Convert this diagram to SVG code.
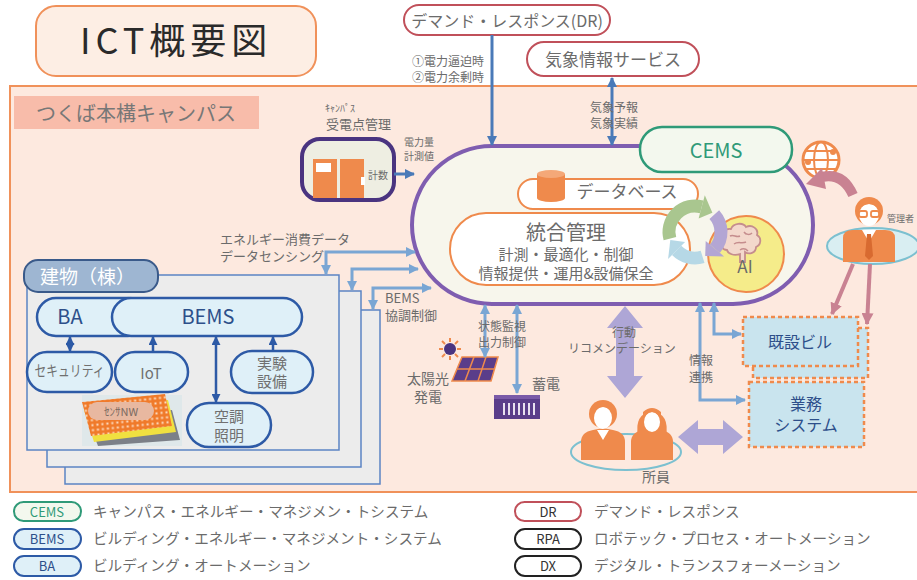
<svg xmlns="http://www.w3.org/2000/svg" width="917" height="580" viewBox="0 0 917 580">
<style>
  text { font-family: "Noto Sans CJK JP", "Noto Sans", sans-serif; }
  .g { fill: #6b6b6b; }
  .lbl { font-size: 12px; fill: #6b6b6b; }
  .pill { fill: #dff0f8; stroke: #2d5aa6; stroke-width: 2.5; }
  .pilltx { fill: #2d4f8a; text-anchor: middle; }
  .ptx { fill: #707070; text-anchor: middle; font-size: 15px; }
  .bl { fill: none; stroke: #4a7ab8; stroke-width: 3; }
  .lb { fill: none; stroke: #7aa6d4; stroke-width: 3; }
  .nv { fill: none; stroke: #2d5aa6; stroke-width: 2.5; }
  .pk { fill: none; stroke: #c98292; stroke-width: 4; }
  .stack { fill: #ececec; stroke: #5b84c4; stroke-width: 1.5; }
  .og { fill: #ef8a4c; }
  .dash { fill: #c9e4ee; stroke: #ef8a4c; stroke-width: 2.5; stroke-dasharray: 4 3; }
  .leg { font-size: 14.6px; fill: #6b6b6b; }
</style>
<defs>
  <marker id="mBl" viewBox="0 0 10 10" refX="9" refY="5" markerWidth="10" markerHeight="10" markerUnits="userSpaceOnUse" orient="auto-start-reverse">
    <path d="M0,0 L10,5 L0,10 z" fill="#4a7ab8"/>
  </marker>
  <marker id="mLb" viewBox="0 0 10 10" refX="9" refY="5" markerWidth="10" markerHeight="10" markerUnits="userSpaceOnUse" orient="auto-start-reverse">
    <path d="M0,0 L10,5 L0,10 z" fill="#7aa6d4"/>
  </marker>
  <marker id="mNv" viewBox="0 0 10 10" refX="9" refY="5" markerWidth="9" markerHeight="9" markerUnits="userSpaceOnUse" orient="auto-start-reverse">
    <path d="M0,0 L10,5 L0,10 z" fill="#2d5aa6"/>
  </marker>
  <marker id="mPk" viewBox="0 0 10 10" refX="9" refY="5" markerWidth="12" markerHeight="12" markerUnits="userSpaceOnUse" orient="auto">
    <path d="M0,0 L10,5 L0,10 z" fill="#c98292"/>
  </marker>
  <pattern id="grid" width="5" height="5" patternUnits="userSpaceOnUse" patternTransform="rotate(-6)">
    <rect width="5" height="5" fill="#f07a2a"/>
    <rect x="1.5" y="1.5" width="2" height="2" fill="#fde0c8"/>
  </pattern>
</defs>

<!-- page background -->
<rect width="917" height="580" fill="#ffffff"/>

<!-- title -->
<g id="title">
  <rect x="36" y="6" width="280" height="70" rx="20" fill="#fdeee4" stroke="#f0915a" stroke-width="2"/>
  <text x="80" y="54" font-size="36" letter-spacing="5" fill="#2a2a2a">ICT概要図</text>
</g>

<!-- campus area -->
<g id="campus">
  <rect x="10" y="86" width="920" height="406" fill="#fde9df" stroke="#f0915a" stroke-width="2"/>
  <rect x="14" y="96" width="245" height="33" fill="#f8bcaa"/>
  <text x="36" y="121" font-size="20" fill="#777777">つくば本構キャンパス</text>
</g>

<!-- external services -->
<g id="dr">
  <rect x="404" y="5" width="206" height="30" rx="15" fill="#ffffff" stroke="#c0505a" stroke-width="2"/>
  <text x="507" y="27" font-size="16" text-anchor="middle" class="g">デマンド・レスポンス(DR)</text>
</g>
<g id="weather">
  <rect x="527" y="42" width="172" height="34" rx="17" fill="#ffffff" stroke="#c0505a" stroke-width="2"/>
  <text x="613" y="66" font-size="17" text-anchor="middle" class="g">気象情報サービス</text>
</g>

<!-- central platform -->
<g id="platform">
  <rect x="412" y="146" width="401" height="158" rx="80" fill="#f7f6ec" stroke="#7f5db0" stroke-width="4"/>
</g>

<g id="cems">
  <rect x="640" y="127" width="152" height="45" rx="22" fill="#f3f8ee" stroke="#2f9a78" stroke-width="2.5"/>
  <text x="716" y="158" font-size="20" text-anchor="middle" fill="#2f9a78">CEMS</text>
</g>

<g id="database">
  <rect x="518" y="179" width="180" height="30" rx="15" fill="#ffffff" stroke="#ef8a4c" stroke-width="2"/>
  <path d="M537,174 v24 a14,4 0 0 0 28,0 v-24 z" class="og"/>
  <ellipse cx="551" cy="174" rx="14" ry="4" fill="#f4a878"/>
  <text x="627" y="198" font-size="17" text-anchor="middle" class="g">データベース</text>
</g>

<g id="integrated">
  <rect x="450" y="213" width="240" height="72" rx="36" fill="#ffffff" stroke="#ef8a4c" stroke-width="2"/>
  <text x="566" y="240" font-size="20" text-anchor="middle" class="g">統合管理</text>
  <text x="566" y="260" font-size="15" text-anchor="middle" class="g">計測・最適化・制御</text>
  <text x="566" y="279" font-size="15" text-anchor="middle" class="g">情報提供・運用&amp;設備保全</text>
</g>

<g id="ai">
  <circle cx="746" cy="254" r="38" fill="#f5ec8a" stroke="#ef8a4c" stroke-width="2"/>
  <!-- brain -->
  <path d="M723,242 c-4,-8 2,-14 8,-13 c2,-6 12,-7 15,-2 c6,-3 13,2 11,8 c5,3 4,10 -1,12 c0,6 -7,8 -11,5 l0,10 l-5,0 l0,-8 c-6,2 -12,0 -13,-4 c-5,0 -7,-5 -4,-8 z" fill="#f3d8cc" stroke="#c58d8d" stroke-width="1.8"/>
  <path d="M730,236 c4,-2 6,2 10,0 M734,244 c4,-3 8,0 12,-2 M744,232 c2,3 6,3 8,1 M740,250 c3,-2 6,-1 8,1" fill="none" stroke="#c58d8d" stroke-width="1.5"/>
  <text x="745" y="273" font-size="17" text-anchor="middle" class="g">AI</text>
</g>

<!-- optimisation cycle -->
<g id="cycle">
  <path d="M669.9,238.7 A26,26 0 0 1 701.7,206.9" fill="none" stroke="#a9c68f" stroke-width="13"/>
  <polygon points="698.6,218.5 704.8,195.3 712.4,212.7" fill="#a9c68f"/>
  <path d="M714.3,214.6 A26,26 0 0 1 714.9,248.7" fill="none" stroke="#b3a6d4" stroke-width="13"/>
  <polygon points="705.7,241.0 724.1,256.4 705.2,255.9" fill="#b3a6d4"/>
  <path d="M702.6,256.9 A26,26 0 0 1 676.6,250.4" fill="none" stroke="#b6d8e6" stroke-width="13"/>
  <polygon points="685.1,241.9 668.1,258.9 670.3,240.0" fill="#b6d8e6"/>
</g>

<!-- campus receiving point -->
<g id="receiving">
  <text x="325" y="112" font-size="10" class="g">ｷｬﾝﾊﾟｽ</text>
  <text x="326" y="129" font-size="13" class="g">受電点管理</text>
  <rect x="302" y="139" width="92" height="61" rx="18" fill="#eeeee2" stroke="#4a3480" stroke-width="4"/>
  <rect x="313" y="159" width="24" height="39" class="og"/>
  <rect x="316" y="163" width="15" height="9" fill="#ffffff"/>
  <rect x="340" y="159" width="24" height="39" class="og"/>
  <rect x="361" y="177" width="4" height="8" fill="#ffffff"/>
  <text x="368" y="179" font-size="10" class="g">計数</text>
  <text x="404" y="146" font-size="10" class="g">電力量</text>
  <text x="404" y="160" font-size="10" class="g">計測値</text>
</g>

<!-- buildings -->
<g id="buildings">
  <rect x="65" y="310" width="315" height="174" class="stack"/>
  <rect x="47" y="291" width="314" height="176" class="stack"/>
  <rect x="27" y="275" width="312" height="175" class="stack"/>
  <rect x="24" y="260" width="134" height="32" rx="14" fill="#9eb6d2" stroke="#3a5a8a" stroke-width="2"/>
  <text x="40" y="284" font-size="19" fill="#ffffff">建物（棟）</text>
</g>

<g id="ba">
  <rect x="37" y="298" width="110" height="38" rx="19" class="pill"/>
  <text x="70" y="324" font-size="20" class="pilltx">BA</text>
</g>
<g id="bems">
  <rect x="112" y="298" width="190" height="38" rx="19" class="pill"/>
  <text x="208" y="324" font-size="20" class="pilltx">BEMS</text>
</g>
<g id="security">
  <rect x="27" y="352" width="85" height="40" rx="20" class="pill"/>
  <text x="69.5" y="376" font-size="12" class="ptx" textLength="70" lengthAdjust="spacingAndGlyphs">セキュリティ</text>
</g>
<g id="iot">
  <rect x="115" y="352" width="73" height="40" rx="20" class="pill"/>
  <text x="151" y="379" font-size="16" class="ptx">IoT</text>
</g>
<g id="lab">
  <rect x="231" y="351" width="82" height="42" rx="21" class="pill"/>
  <text x="272" y="369" class="ptx">実験</text>
  <text x="272" y="387" class="ptx">設備</text>
</g>
<g id="hvac">
  <rect x="187" y="403" width="84" height="44" rx="22" class="pill"/>
  <text x="229" y="422" class="ptx">空調</text>
  <text x="229" y="441" class="ptx">照明</text>
</g>
<g id="sensornw">
  <rect x="82" y="395" width="100" height="51" fill="#dfe8ea"/>
  <polygon points="88,420 172,410 180,440 98,446" fill="#7c8088"/>
  <polygon points="84,410 168,400 176,432 94,442" fill="#f0e040"/>
  <polygon points="82,402 165,394 172,426 91,436" fill="url(#grid)"/>
  <rect x="88" y="402" width="66" height="18" rx="9" fill="#e8b8a0"/>
  <text x="121" y="416" font-size="11" text-anchor="middle" fill="#7a6a60">ｾﾝｻNW</text>
</g>

<!-- energy resources -->
<g id="solar">
  <g stroke="#ef8a4c" stroke-width="2">
    <line x1="450" y1="338" x2="450" y2="342"/><line x1="450" y1="356" x2="450" y2="360"/>
    <line x1="439" y1="349" x2="443" y2="349"/><line x1="457" y1="349" x2="461" y2="349"/>
    <line x1="442" y1="341" x2="445" y2="344"/><line x1="455" y1="354" x2="458" y2="357"/>
    <line x1="458" y1="341" x2="455" y2="344"/><line x1="442" y1="357" x2="445" y2="354"/>
  </g>
  <circle cx="450" cy="349" r="6" fill="#4a3480"/>
  <polygon points="462,357 498,357 491,381 452,381" fill="#5a3d8a" stroke="#ef8a4c" stroke-width="1.5"/>
  <g stroke="#ef8a4c" stroke-width="1.5">
    <line x1="457" y1="369" x2="495" y2="369"/>
    <line x1="474" y1="357" x2="465" y2="381"/>
    <line x1="486" y1="357" x2="478" y2="381"/>
  </g>
  <text x="407" y="384" font-size="14" class="g">太陽光</text>
  <text x="414" y="402" font-size="14" class="g">発電</text>
</g>
<g id="battery">
  <rect x="494" y="395" width="46" height="24" fill="#5a3d8a"/>
  <rect x="494" y="395" width="46" height="4" fill="#7a5aa8"/>
  <g fill="#e8e0f0">
    <rect x="503" y="403" width="2" height="12"/><rect x="508" y="403" width="2" height="12"/>
    <rect x="513" y="403" width="2" height="12"/><rect x="518" y="403" width="2" height="12"/>
    <rect x="523" y="403" width="2" height="12"/><rect x="528" y="403" width="2" height="12"/>
    <rect x="533" y="403" width="2" height="12"/>
  </g>
  <text x="532" y="389" font-size="14" class="g">蓄電</text>
</g>

<!-- staff -->
<g id="staff">
  <ellipse cx="626" cy="452" rx="55" ry="18" fill="none" stroke="#7cc0d0" stroke-width="2"/>
  <path d="M581,460 v-18 q0,-10 12,-12 l10,-2 l10,2 q12,2 12,12 v18 z" class="og"/>
  <polygon points="597,430 603,440 609,430" fill="#ffffff"/>
  <circle cx="603" cy="414" r="14" class="og"/>
  <ellipse cx="603" cy="418" rx="9" ry="11" fill="#ffffff"/>
  <path d="M594,412 q9,-10 18,0 l0,-6 q-9,-10 -18,0 z" class="og"/>
  <path d="M631,460 v-18 q0,-10 12,-12 l9,-2 l9,2 q12,2 12,12 v18 z" class="og"/>
  <path d="M638,436 q-4,-22 14,-25 q18,3 14,25 z" class="og"/>
  <ellipse cx="652" cy="422" rx="8" ry="10" fill="#ffffff"/>
  <path d="M643,418 q9,-12 18,0 l0,-6 q-9,-8 -18,0 z" class="og"/>
  <text x="642" y="482" font-size="14" class="g">所員</text>
</g>

<g id="existing">
  <rect x="753" y="328" width="115" height="50" class="dash"/>
  <rect x="743" y="317" width="115" height="49" class="dash"/>
  <text x="800" y="348" font-size="16" text-anchor="middle" fill="#2d4f8a">既設ビル</text>
</g>
<g id="business">
  <rect x="749" y="382" width="115" height="65" class="dash"/>
  <text x="806" y="410" font-size="16" text-anchor="middle" fill="#2d4f8a">業務</text>
  <text x="806" y="431" font-size="16" text-anchor="middle" fill="#2d4f8a">システム</text>
</g>

<g id="manager">
  <circle cx="821" cy="160" r="18" fill="#ffffff" stroke="#ef8a4c" stroke-width="3"/>
  <g fill="none" stroke="#ef8a4c" stroke-width="2">
    <ellipse cx="821" cy="160" rx="7" ry="18"/>
    <line x1="803" y1="160" x2="839" y2="160"/>
    <line x1="806" y1="151" x2="836" y2="151"/>
    <line x1="806" y1="169" x2="836" y2="169"/>
  </g>
  <circle cx="808" cy="162" r="3" class="og"/>
  <circle cx="833" cy="152" r="3" class="og"/>
  <ellipse cx="873" cy="246" rx="46" ry="18" fill="#d9eef2" stroke="#7cc0d0" stroke-width="2"/>
  <path d="M843,262 v-24 q0,-8 10,-8 h32 q10,0 10,8 v24 z" class="og"/>
  <polygon points="862,230 869,242 876,230" fill="#ffffff"/>
  <polygon points="867,234 871,234 873,256 869,260 865,256" fill="#d86a30"/>
  <circle cx="869" cy="211" r="14" class="og"/>
  <ellipse cx="869" cy="215" rx="10" ry="11" fill="#ffffff"/>
  <path d="M858,210 q11,-12 22,0 l0,-6 q-11,-10 -22,0 z" class="og"/>
  <g fill="none" stroke="#ef8a4c" stroke-width="1.8">
    <rect x="859" y="211" width="8" height="6" rx="2"/>
    <rect x="871" y="211" width="8" height="6" rx="2"/>
  </g>
  <path d="M853,195 Q842,170 818,178" fill="none" stroke="#c98292" stroke-width="10"/>
  <polygon points="822,168 806,184 826,189" fill="#c98292"/>
  <text x="887" y="222" font-size="9" class="g">管理者</text>
</g>

<!-- connectors -->
<g id="connectors">
  <!-- DR / weather -->
  <line x1="492" y1="35" x2="492" y2="145" class="bl" marker-end="url(#mBl)"/>
  <line x1="612" y1="78" x2="612" y2="145" class="bl" marker-start="url(#mBl)" marker-end="url(#mBl)"/>
  <!-- metering -->
  <line x1="394" y1="174" x2="414" y2="174" class="bl" marker-end="url(#mBl)"/>
  <!-- building data -->
  <polyline points="326,274 326,252 415,252" class="lb" marker-start="url(#mLb)" marker-end="url(#mLb)"/>
  <polyline points="352,290 352,269 418,269" class="lb" marker-start="url(#mLb)" marker-end="url(#mLb)"/>
  <polyline points="373,309 373,288 431,288" class="lb" marker-start="url(#mLb)" marker-end="url(#mLb)"/>
  <!-- inside building -->
  <line x1="70" y1="337" x2="70" y2="351" class="nv" marker-start="url(#mNv)" marker-end="url(#mNv)"/>
  <line x1="153" y1="351" x2="153" y2="337" class="nv" marker-end="url(#mNv)"/>
  <line x1="216" y1="337" x2="216" y2="402" class="nv" marker-start="url(#mNv)" marker-end="url(#mNv)"/>
  <line x1="273" y1="350" x2="273" y2="337" class="nv" marker-end="url(#mNv)"/>
  <!-- solar / storage -->
  <line x1="485" y1="305" x2="485" y2="357" class="lb" marker-start="url(#mLb)" marker-end="url(#mLb)"/>
  <line x1="517" y1="305" x2="517" y2="393" class="lb" marker-start="url(#mLb)" marker-end="url(#mLb)"/>
  <!-- info linkage -->
  <polyline points="700,303 700,400 745,400" class="lb" marker-start="url(#mLb)" marker-end="url(#mLb)"/>
  <polyline points="714,303 714,334 741,334" class="lb" marker-start="url(#mLb)" marker-end="url(#mLb)"/>
  <!-- recommendation / staff -->
  <polygon points="625,306 643,328 634,328 634,376 643,376 625,398 607,376 616,376 616,328 607,328" fill="#aea6d6"/>
  <polygon points="678,437 698,420 698,429 723,429 723,420 743,437 723,454 723,445 698,445 698,454" fill="#aea6d6"/>
  <!-- manager -->
  <line x1="853" y1="264" x2="832" y2="314" class="pk" marker-end="url(#mPk)"/>
  <line x1="870" y1="264" x2="867" y2="324" class="pk" marker-end="url(#mPk)"/>
</g>

<!-- connector labels -->
<g id="labels">
  <text x="412" y="66" class="lbl">①電力逼迫時</text>
  <text x="412" y="82" class="lbl">②電力余剰時</text>
  <text x="590" y="112" class="lbl">気象予報</text>
  <text x="590" y="128" class="lbl">気象実績</text>
  <text x="220" y="244" font-size="13" class="g">エネルギー消費データ</text>
  <text x="220" y="261" font-size="13" class="g">データセンシング</text>
  <text x="385" y="303" font-size="13" class="g">BEMS</text>
  <text x="385" y="320" font-size="13" class="g">協調制御</text>
  <text x="478" y="331" class="lbl">状態監視</text>
  <text x="478" y="347" class="lbl">出力制御</text>
  <text x="612" y="337" class="lbl">行動</text>
  <text x="568" y="353" class="lbl">リコメンデーション</text>
  <text x="689" y="365" class="lbl">情報</text>
  <text x="689" y="382" class="lbl">連携</text>
</g>

<!-- legend -->
<g id="legend">
  <rect x="14" y="502" width="67" height="19" rx="9.5" fill="#f3f8ee" stroke="#2f9a78" stroke-width="2"/>
  <text x="47" y="517" font-size="13" text-anchor="middle" fill="#2f9a78">CEMS</text>
  <text x="93" y="517" class="leg">キャンパス・エネルギー・マネジメン・トシステム</text>
  <rect x="14" y="529" width="67" height="20" rx="10" fill="#dff0f8" stroke="#2d5aa6" stroke-width="2"/>
  <text x="47" y="544" font-size="13" text-anchor="middle" fill="#2d4f8a">BEMS</text>
  <text x="93" y="544" class="leg">ビルディング・エネルギー・マネジメント・システム</text>
  <rect x="14" y="556" width="67" height="20" rx="10" fill="#dff0f8" stroke="#2d5aa6" stroke-width="2"/>
  <text x="47" y="571" font-size="13" text-anchor="middle" fill="#2d4f8a">BA</text>
  <text x="93" y="571" class="leg">ビルディング・オートメーション</text>
  <rect x="515" y="502" width="66" height="19" rx="9.5" fill="#ffffff" stroke="#c0505a" stroke-width="2"/>
  <text x="548" y="517" font-size="13" text-anchor="middle" fill="#333333">DR</text>
  <text x="594" y="517" class="leg">デマンド・レスポンス</text>
  <rect x="515" y="529" width="66" height="20" rx="10" fill="#ffffff" stroke="#222222" stroke-width="2"/>
  <text x="548" y="544" font-size="13" text-anchor="middle" fill="#333333">RPA</text>
  <text x="594" y="544" class="leg">ロボテック・プロセス・オートメーション</text>
  <rect x="515" y="556" width="66" height="20" rx="10" fill="#ffffff" stroke="#222222" stroke-width="2"/>
  <text x="548" y="571" font-size="13" text-anchor="middle" fill="#333333">DX</text>
  <text x="594" y="571" class="leg">デジタル・トランスフォーメーション</text>
</g>
</svg>
